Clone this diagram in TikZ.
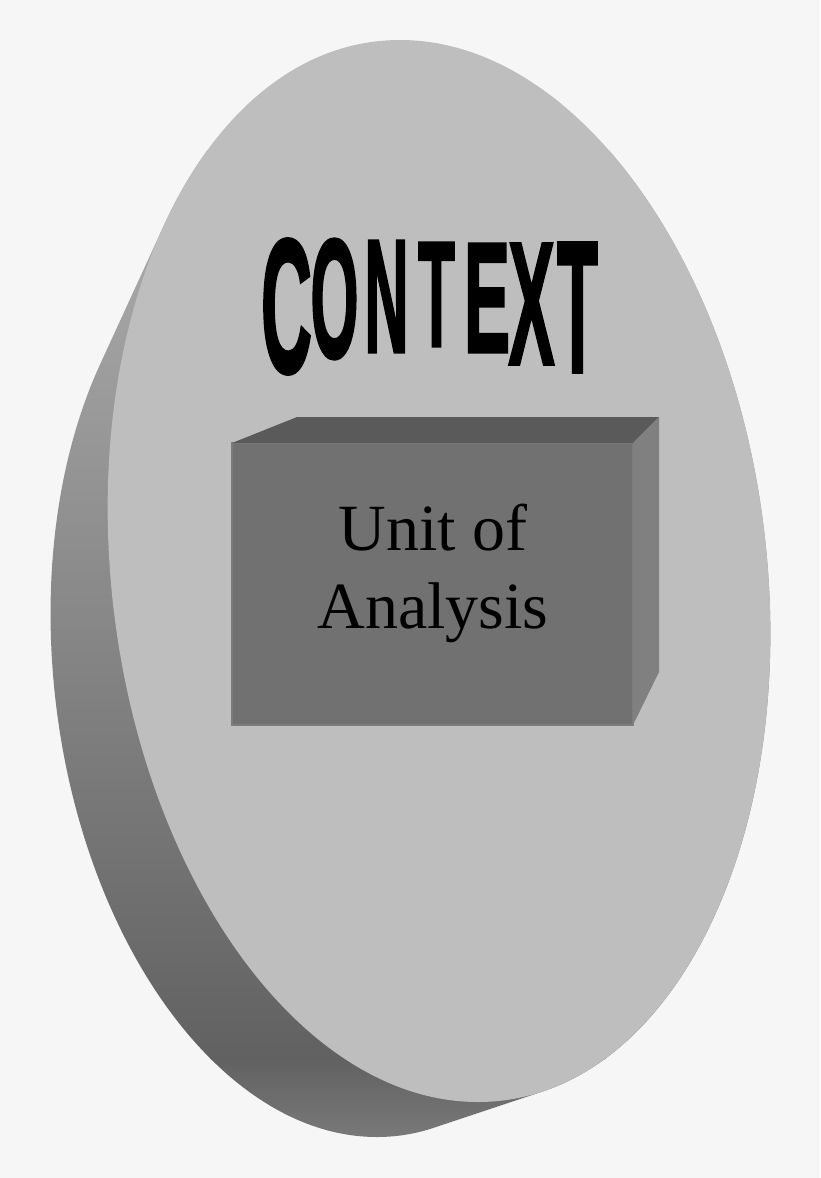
\documentclass[tikz,border=0pt]{standalone}
\usepackage{fontspec}
\usepackage{graphicx}
\setmainfont{Liberation Serif}
\newfontfamily\ctxfont[FakeBold=2]{Liberation Sans}

\definecolor{backgray}{HTML}{F6F6F6}
\definecolor{facegray}{HTML}{BEBEBE}
\definecolor{sidelight}{HTML}{B0B0B0}
\definecolor{sidemid}{HTML}{999999}
\definecolor{sidedark}{HTML}{616161}
\definecolor{sideend}{HTML}{7A7A7A}
\definecolor{boxfront}{HTML}{717171}
\definecolor{boxedge}{HTML}{7C7C7C}
\definecolor{boxtop}{HTML}{5A5A5A}
\definecolor{boxside}{HTML}{808080}

\tikzset{%
        ctxletter/.style={
                inner sep=0pt,
                font=\ctxfont\bfseries
            },
        unitface/.style={
                fill=boxfront,
                draw=boxedge,
                line width=1.5pt,
                outer sep=0pt,
                minimum width=401pt,
                minimum height=282pt
            },
        unitlabel/.style={
                inner sep=0pt,
                align=center,
                font=\fontsize{66}{78}\selectfont
            }
    }

\begin{document}
\begin{tikzpicture}[x=1pt,y=-1pt]

    % background:
        \fill[backgray] (0,0) rectangle (820,1178);
        \useasboundingbox (0,0) rectangle (820,1178);

    % disc, side and face:
    \begin{scope}[shift={(439,571)},xslant=-0.0734]
        \begin{scope}
            \clip \foreach \i in {0,...,40} {({-103.6*(1-\i/40)},{98*(1-\i/40)}) ellipse [x radius={290+39*\i/40}, y radius={468+63*\i/40}]};
            \shade[top color=sidelight, middle color=sidemid, bottom color=sidedark] (-520,-421) rectangle (520,489);
            \shade[top color=sidedark, bottom color=sideend] (-520,487) rectangle (520,570);
        \end{scope}
        \fill[facegray] (0,0) ellipse [x radius=329, y radius=531];
    \end{scope}

    % context word:
        \foreach \ch/\cx/\cy/\w/\h [count=\i] in {C/286.5/306.5/51/135, O/334.5/299/48/120, N/386.5/296.5/44/111, T/436.5/294.5/37/103, E/487/298/46/108, X/531.5/304/46/120, T/577.5/307.5/41/129}
            \node[ctxletter] (ctx\i) at (\cx,\cy) {\resizebox*{\w pt}{\h pt}{\ch}};

    % unit of analysis box:
        \node[unitface] (unit) at (432.5,584) {};
        \fill[boxtop] (unit.north west) -- ++(65,-26) -- ++(362,0) -- (unit.north east) -- cycle;
        \fill[boxside] (unit.north east) -- ++(26,-26) -- ++(0,255) -- (unit.south east) -- cycle;
        \node[unitlabel] (label) at (433,573.5) {Unit of\\Analysis};
\end{tikzpicture}
\end{document}
